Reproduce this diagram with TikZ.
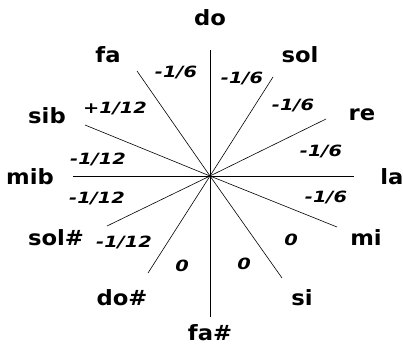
\documentclass[tikz,border=0pt]{standalone}
\usepackage{fontspec}
\newfontfamily\notefont[FakeStretch=1.08]{DejaVu Sans}
\newfontfamily\valfont[FakeStretch=1.25]{DejaVu Sans}
\usetikzlibrary{positioning}

\begin{document}
\begin{tikzpicture}[x=1pt,y=-1pt,
   note/.style={font=\notefont\bfseries\fontsize{21}{25}\selectfont,inner sep=0pt},
   val/.style={font=\valfont\bfseries\itshape\fontsize{15.5}{18}\selectfont,inner sep=0pt},
   ray/.style={line width=0.6pt}]
  \useasboundingbox (0,0) rectangle (403,347);
  \coordinate (c) at (210,176);
  % ends of the rays
  \coordinate (edo) at (210,50);
  \coordinate (esol) at (273,77);
  \coordinate (ere) at (326,119);
  \coordinate (ela) at (354,176);
  \coordinate (emi) at (337,227);
  \coordinate (esi) at (282,278);
  \coordinate (efad) at (210,317);
  \coordinate (edod) at (148,273);
  \coordinate (esold) at (107,226);
  \coordinate (emib) at (73,176);
  \coordinate (esib) at (85,125);
  \coordinate (efa) at (137,71);
  \foreach \e in {edo,esol,ere,ela,emi,esi,efad,edod,esold,emib,esib,efa}
    \draw[ray] (c) -- (\e);
  % note names
  \node[note] (do) at (210,18) {do};
  \node[note] (sol) at (300,55) {sol};
  \node[note] (re) at (362,115) {re};
  \node[note] (la) at (392,177) {la};
  \node[note] (mi) at (366,238) {mi};
  \node[note] (si) at (302,298) {si};
  \node[note] (fad) at (210,333) {fa\#};
  \node[note] (dod) at (122,298) {do\#};
  \node[note] (sold) at (56,238) {sol\#};
  \node[note] (mib) at (30,177) {mib};
  \node[note] (sib) at (47,116) {sib};
  \node[note] (fa) at (108,55) {fa};
  % deviations
  \node[val] (v1) at (242,78) {-1/6};
  \node[val] (v2) at (293,105) {-1/6};
  \node[val] (v3) at (321,151) {-1/6};
  \node[val] (v4) at (326,197) {-1/6};
  \node[val] (v5) at (291,240) {0};
  \node[val] (v6) at (244,264) {0};
  \node[val] (v7) at (182,266) {0};
  \node[val] (v8) at (124,242) {-1/12};
  \node[val] (v9) at (97,198) {-1/12};
  \node[val] (v10) at (98,159) {-1/12};
  \node[val] (v11) at (115,108) {+1/12};
  \node[val] (v12) at (176,72) {-1/6};
\end{tikzpicture}
\end{document}
